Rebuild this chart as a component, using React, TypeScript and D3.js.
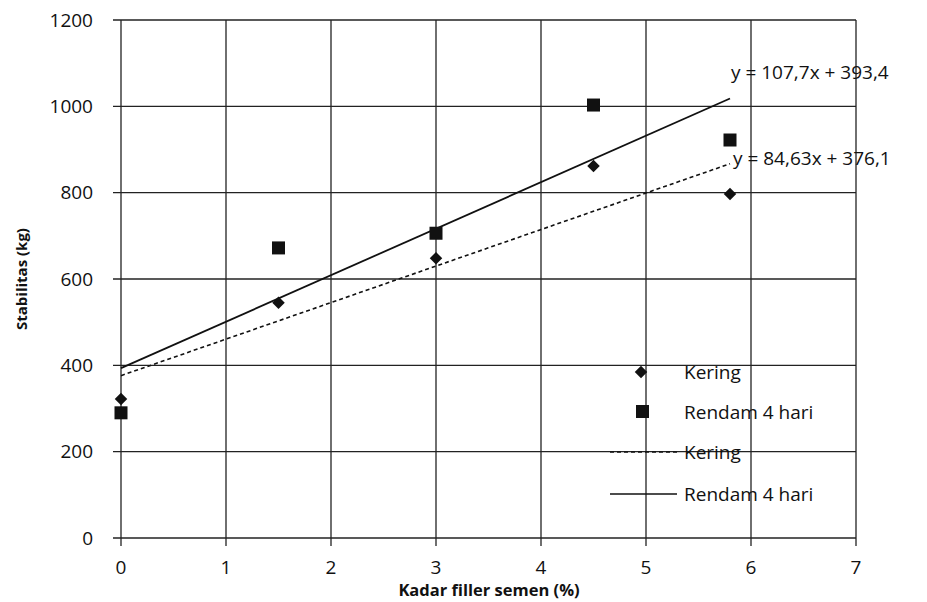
import React from "react";
import * as d3 from "d3";

// data
const filler = [0, 1.5, 3, 4.5, 5.8];
const kering = [322, 545, 648, 862, 797];
const rendam = [290, 672, 706, 1003, 922];
const trendKering = { slope: 84.63, intercept: 376.1, label: "y = 84,63x + 376,1" };
const trendRendam = { slope: 107.7, intercept: 393.4, label: "y = 107,7x + 393,4" };
const xTicks = [0, 1, 2, 3, 4, 5, 6, 7];
const yTicks = [0, 200, 400, 600, 800, 1000, 1200];

const W = 927;
const H = 602;
const FONT = "'Open Sans', 'DejaVu Sans', sans-serif";

export default function App() {
  const x = d3.scaleLinear().domain([0, 7]).range([121, 856]);
  const y = d3.scaleLinear().domain([0, 1200]).range([538, 20]);

  const trendLine = (t: { slope: number; intercept: number }) =>
    d3.line<number>()
      .x(d => x(d))
      .y(d => y(t.slope * d + t.intercept))([0, 5.8]) as string;

  // diamond = square turned 45 degrees, like the Excel marker
  const diamond = d3.symbol().type(d3.symbolSquare).size(78)() as string;

  return (
    <svg width={W} height={H} style={{ position: "absolute", left: 0, top: 0 }}>
      <rect width={W} height={H} fill="#fff" />
      {/* grid */}
      <g stroke="#222" strokeWidth={1.3}>
        {yTicks.map(t => (
          <line key={"gy" + t} x1={x(0) - 8} x2={x(7)} y1={y(t)} y2={y(t)} />
        ))}
        {xTicks.map(t => (
          <line key={"gx" + t} x1={x(t)} x2={x(t)} y1={y(1200)} y2={y(0) + 8} />
        ))}
      </g>
      {/* tick labels */}
      <g fontFamily={FONT} fontSize={19} fill="#111" fontWeight={500}>
        {yTicks.map(t => (
          <text key={"ty" + t} x={93} y={y(t)} dy="0.35em" textAnchor="end">{t}</text>
        ))}
        {xTicks.map(t => (
          <text key={"tx" + t} x={x(t)} y={574} textAnchor="middle">{t}</text>
        ))}
      </g>
      <text x={489} y={596} textAnchor="middle" fontFamily={FONT} fontWeight="bold" fontSize={16.5} fill="#111">
        Kadar filler semen (%)
      </text>
      <text transform={`translate(27,${y(600)}) rotate(-90)`} textAnchor="middle" fontFamily={FONT}
        fontWeight="bold" fontSize={15} fill="#111">
        Stabilitas (kg)
      </text>
      {/* trend lines */}
      <path d={trendLine(trendKering)} fill="none" stroke="#111" strokeWidth={1.6} strokeDasharray="4,3" />
      <path d={trendLine(trendRendam)} fill="none" stroke="#111" strokeWidth={1.8} />
      {/* points */}
      {filler.map((f, i) => (
        <path key={"k" + i} d={diamond} transform={`translate(${x(f)},${y(kering[i])}) rotate(45)`} fill="#111" />
      ))}
      {filler.map((f, i) => (
        <rect key={"r" + i} x={x(f) - 6.5} y={y(rendam[i]) - 6.5} width={13} height={13} fill="#111" />
      ))}
      {/* equations */}
      <g fontFamily={FONT} fontSize={19} fill="#111" fontWeight={500}>
        <text x={731} y={79}>{trendRendam.label}</text>
        <text x={733} y={165}>{trendKering.label}</text>
      </g>
      {/* legend */}
      <g fontFamily={FONT} fontSize={19} fill="#111" fontWeight={500}>
        <path d={diamond} transform="translate(641,372) rotate(45)" fill="#111" />
        <text x={684} y={372} dy="0.35em">Kering</text>
        <rect x={636} y={405} width={13} height={13} fill="#111" />
        <text x={684} y={412} dy="0.35em">Rendam 4 hari</text>
        <line x1={610} x2={677} y1={452} y2={452} stroke="#111" strokeWidth={1.5} strokeDasharray="4,3" />
        <text x={684} y={452} dy="0.35em">Kering</text>
        <line x1={610} x2={677} y1={494} y2={494} stroke="#111" strokeWidth={1.5} />
        <text x={684} y={494} dy="0.35em">Rendam 4 hari</text>
      </g>
    </svg>
  );
}
